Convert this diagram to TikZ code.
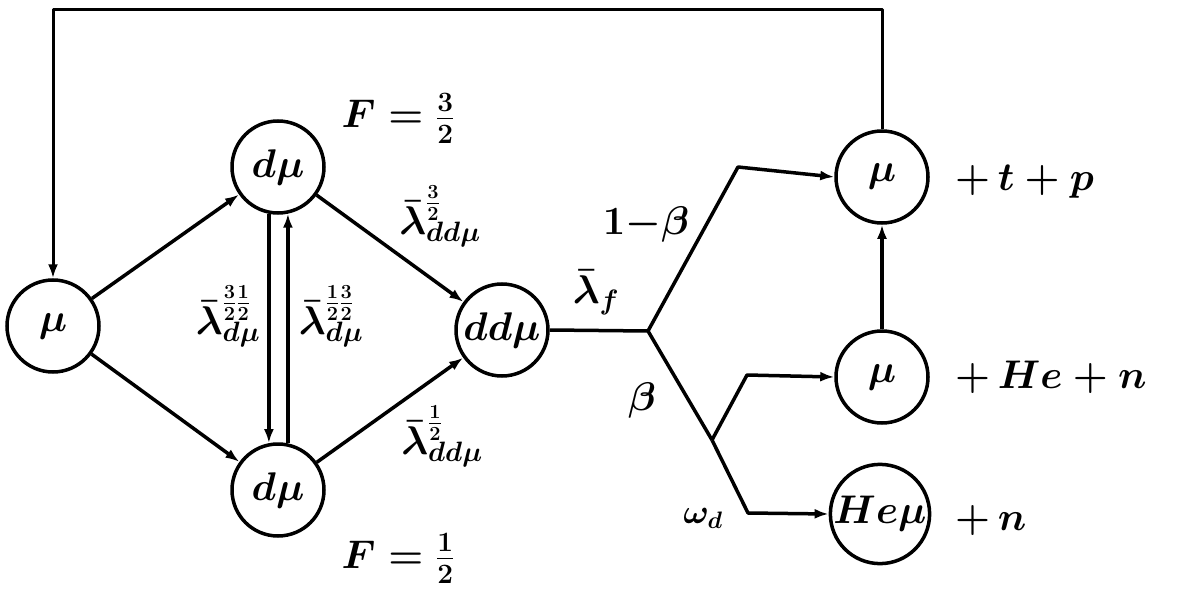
\RequirePackage{fix-cm}
\documentclass[tikz,border=0pt]{standalone}
\usetikzlibrary{arrows.meta}
\begin{document}
\begin{tikzpicture}[x=1pt,y=-1pt,
  every node/.style={font=\fontsize{40}{48}\selectfont\boldmath},
  st/.style={circle,draw,line width=3.5pt,minimum size=92pt,inner sep=0pt},
  ln/.style={line width=3.5pt,line join=round},
  ar/.style={ln,-{Latex[length=14pt,width=10pt]}},
  lab/.style={inner sep=0pt},
  prod/.style={inner sep=0pt,anchor=base west}]
\useasboundingbox (0,0) rectangle (1178,591);
% states
\node[st] (m0) at (53,326) {$\mu$};
\node[st] (dt) at (278,167) {$d\mu$};
\node[st] (db) at (278,490) {$d\mu$};
\node[st] (dd) at (502,330) {$dd\mu$};
\node[st] (m1) at (882,177) {$\mu$};
\node[st] (m2) at (882,377) {$\mu$};
\node[st] (hm) at (880,514) {$He\mu$};
% junctions and corners
\coordinate (j1) at (648,331);
\coordinate (c1) at (738,167);
\coordinate (j2) at (712,440);
\coordinate (c2) at (747,375);
\coordinate (c3) at (748,513);
\coordinate (l1) at (882,10);
\coordinate (l2) at (53,10);
% connectors
\draw[ar] (m0) -- (dt);
\draw[ar] (m0) -- (db);
\draw[ar] (dt) -- (dd);
\draw[ar] (db) -- (dd);
\draw[ar] (dt.-101.3) -- (db.101.3);
\draw[ar] (db.78.7) -- (dt.-78.7);
\draw[ln] (dd.east) -- (j1);
\draw[ar] (j1) -- (c1) -- (m1.west);
\draw[ln] (j1) -- (j2);
\draw[ar] (j2) -- (c2) -- (m2.west);
\draw[ar] (j2) -- (c3) -- (hm.west);
\draw[ar] (m2) -- (m1);
\draw[ar,line width=3pt] (m1.north) -- (l1) -- (l2) -- (m0.north);
% labels
\node[lab,anchor=base] (f1) at (398,128) {$F=\frac32$};
\node[lab,anchor=base] (f2) at (398,568) {$F=\frac12$};
\node[lab] (la) at (228,316) {$\bar\lambda^{\frac32\frac12}_{d\mu}$};
\node[lab] (lb) at (331,316) {$\bar\lambda^{\frac12\frac32}_{d\mu}$};
\node[lab] (lc) at (440,216) {$\bar\lambda^{\frac32}_{dd\mu}$};
\node[lab] (ld) at (442,436) {$\bar\lambda^{\frac12}_{dd\mu}$};
\node[lab] (lf) at (596,292) {$\bar\lambda_f$};
\node[lab] (lb1) at (646,224) {$1{-}\beta$};
\node[lab] (lb2) at (642,400) {$\beta$};
\node[lab,font=\fontsize{34}{40}\selectfont\boldmath] (lw) at (703,518) {$\omega_d$};
\node[prod] (p1) at (955,190) {$+\,t+p$};
\node[prod] (p2) at (955,388) {$+\,He+n$};
\node[prod] (p3) at (955,530) {$+\,n$};
\end{tikzpicture}
\end{document}
